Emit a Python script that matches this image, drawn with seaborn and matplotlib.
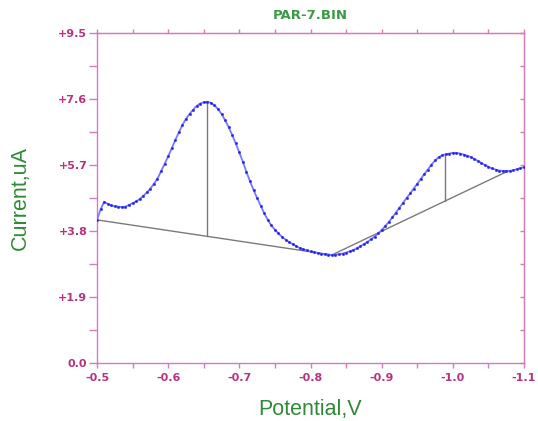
import numpy as np
import pandas as pd
import matplotlib
matplotlib.use("Agg")
import matplotlib.pyplot as plt
import seaborn as sns
from matplotlib.ticker import FixedLocator

# ---- data ----
potential_start = -0.500
potential_end = -1.100
current = [
    4.12, 4.42, 4.64, 4.58, 4.54, 4.51, 4.50, 4.49, 4.50, 4.55,
    4.60, 4.65, 4.72, 4.81, 4.91, 5.02, 5.16, 5.31, 5.52, 5.73,
    5.95, 6.18, 6.42, 6.64, 6.85, 7.03, 7.17, 7.29, 7.40, 7.47,
    7.51, 7.52, 7.49, 7.42, 7.31, 7.17, 6.99, 6.79, 6.56, 6.32,
    6.06, 5.79, 5.50, 5.23, 4.98, 4.75, 4.53, 4.31, 4.12, 3.96,
    3.84, 3.73, 3.63, 3.55, 3.48, 3.42, 3.36, 3.31, 3.27, 3.24,
    3.21, 3.19, 3.17, 3.15, 3.13, 3.12, 3.11, 3.12, 3.13, 3.15,
    3.18, 3.21, 3.25, 3.30, 3.36, 3.42, 3.49, 3.56, 3.64, 3.73,
    3.83, 3.94, 4.06, 4.19, 4.33, 4.47, 4.61, 4.75, 4.88, 5.02,
    5.16, 5.30, 5.44, 5.57, 5.71, 5.83, 5.92, 5.98, 6.01, 6.03,
    6.05, 6.05, 6.03, 6.00, 5.97, 5.93, 5.88, 5.82, 5.76, 5.70,
    5.65, 5.60, 5.57, 5.54, 5.53, 5.53, 5.53, 5.55, 5.58, 5.61,
    5.64,
]
potential = np.linspace(potential_start, potential_end, len(current))

# baselines (two segments) and peak-height markers
baseline_v = [-0.500, -0.830, -1.078]
baseline_i = [4.12, 3.11, 5.53]
peak1_v = [-0.654, -0.654]
peak1_i = [3.65, 7.52]
peak2_v = [-0.989, -0.989]
peak2_i = [4.66, 6.00]

yticks = [0.0, 1.9, 3.8, 5.7, 7.6, 9.5]
ytick_labels = ["0.0", "+1.9", "+3.8", "+5.7", "+7.6", "+9.5"]
yminor = [0.95, 2.85, 4.75, 6.65, 8.55]
xticks = [-0.5, -0.6, -0.7, -0.8, -0.9, -1.0, -1.1]
xtick_labels = ["-0.5", "-0.6", "-0.7", "-0.8", "-0.9", "-1.0", "-1.1"]
xminor = [-0.55, -0.65, -0.75, -0.85, -0.95, -1.05]

title = "PAR-7.BIN"
xlabel = "Potential,V"
ylabel = "Current,uA"

# ---- style ----
sns.set_style("white")
plt.rcParams["font.family"] = ["Liberation Sans", "DejaVu Sans"]

spine_col = "#d27bbd"
tick_lab_col = "#b8337f"
green = "#2f8a36"

fig = plt.figure(figsize=(5.38, 4.21), dpi=100)
ax = fig.add_axes([97 / 538, 1 - 363 / 421, (524 - 97) / 538, (363 - 33) / 421])

df = pd.DataFrame({"Potential": potential, "Current": current})
sns.lineplot(data=df, x="Potential", y="Current", ax=ax, color="#7878ff",
             linewidth=1.3, marker="o", markersize=1.8,
             markerfacecolor="#2020ee", markeredgecolor="#2020ee",
             markeredgewidth=0.2, sort=False, zorder=3)

for vx, iy in [(baseline_v, baseline_i), (peak1_v, peak1_i), (peak2_v, peak2_i)]:
    sns.lineplot(x=vx, y=iy, ax=ax, color="#7a7a7a", linewidth=1.0,
                 sort=False, estimator=None, zorder=2)

ax.set_xlim(-0.5, -1.1)
ax.set_ylim(0, 9.5)

for s in ax.spines.values():
    s.set_color(spine_col)
    s.set_linewidth(1.0)
    s.set_visible(True)

tick_font = dict(family="DejaVu Sans", weight="bold", size=8)

ax.xaxis.set_major_locator(FixedLocator(xticks))
ax.set_xticklabels(xtick_labels, **tick_font)
ax.xaxis.set_minor_locator(FixedLocator(xminor))
ax.yaxis.set_major_locator(FixedLocator(yticks))
ax.set_yticklabels(ytick_labels, **tick_font)
ax.yaxis.set_minor_locator(FixedLocator(yminor))

ax.tick_params(axis="y", which="both", direction="out", length=6, width=1.0,
               color=spine_col, left=True, right=False, pad=1,
               labelcolor=tick_lab_col)
ax.tick_params(axis="x", which="both", direction="out", length=3.5, width=1.0,
               color=spine_col, bottom=True, top=False, pad=3.5,
               labelcolor=tick_lab_col)

# top ticks (outward), right ticks (inward)
top = ax.secondary_xaxis("top")
top.xaxis.set_major_locator(FixedLocator(xticks + xminor))
top.tick_params(direction="out", length=3, width=1.0, color=spine_col,
                labeltop=False)
top.spines["top"].set_color(spine_col)
right = ax.secondary_yaxis("right")
right.yaxis.set_major_locator(FixedLocator(yticks + yminor))
right.tick_params(direction="in", length=3, width=1.0, color=spine_col,
                  labelright=False)
right.spines["right"].set_color(spine_col)

ax.set_title(title, color="#3a9a45", fontsize=9.5, pad=10,
             family="DejaVu Sans", weight="bold")
ax.set_xlabel(xlabel, color=green, fontsize=15.5)
ax.set_ylabel(ylabel, color=green, fontsize=15.5)
ax.xaxis.set_label_coords(0.5, -0.108)
ax.yaxis.set_label_coords(-0.155, 0.5)

fig.savefig("out.png", dpi=100, facecolor="white")
